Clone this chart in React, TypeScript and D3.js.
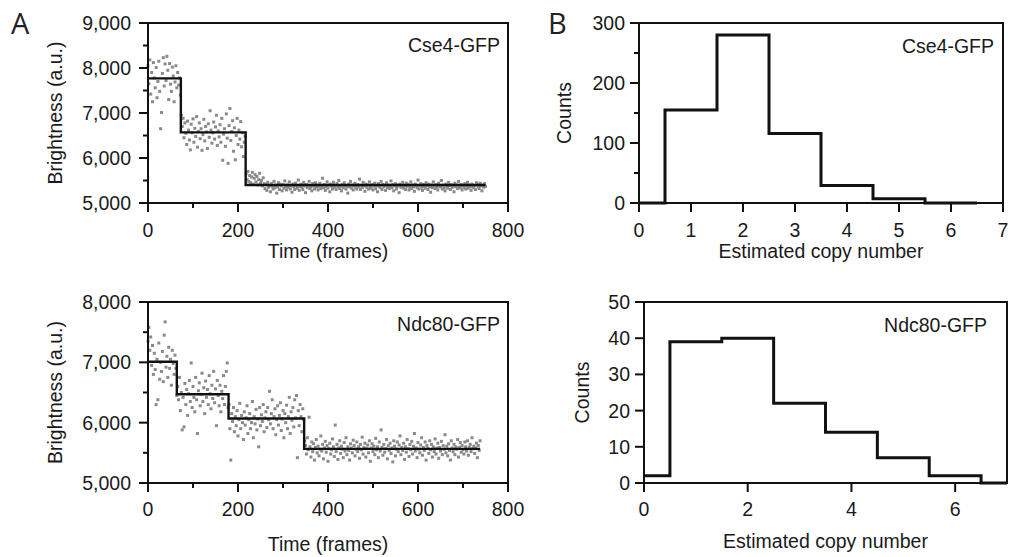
import React from 'react';
import * as d3 from 'd3';

// ---------------- data ----------------
const FRAME_STEP = 2;

// Cse4-GFP brightness trace (one value every FRAME_STEP frames, per segment)
const cse4Starts = [0, 74, 218];
const cse4Seg1 = [8050, 7650, 8180, 7420, 7900, 7250, 8120, 7780, 7560, 8010, 7340, 7700, 8150, 7480, 6650, 7010, 7880, 8230, 7600, 8090, 7720, 8260, 7950, 7300, 8100, 7640, 7480, 8020, 7820, 7250, 7690, 8050, 7560, 7900, 7620, 7780, 7400];
const cse4Seg2 = [6950, 6700, 6880, 6450, 6780, 6550, 6300, 6820, 6620, 6400, 6180, 6750, 6560, 6870, 6350, 6660, 6480, 6920, 6240, 6590, 6780, 6430, 6650, 6170, 6520, 6860, 6380, 6700, 6580, 6210, 6760, 6460, 7050, 6620, 6330, 6560, 6800, 6420, 6690, 6950, 6280, 6600, 6470, 6740, 6350, 6880, 5950, 6530, 6650, 6260, 6980, 6440, 5880, 6720, 7100, 6390, 6590, 6830, 6150, 6670, 5960, 6500, 6880, 6300, 6620, 6420, 6810, 6250, 6560, 6030, 6350, 6480];
const cse4Seg3 = [
  5650, 5520, 5700, 5480, 5610, 5450, 5580, 5680, 5420, 5550, 5630, 5470, 5590, 5400, 5520, 5660, 5440, 5500, 5380, 5560, 5430,
  5320, 5410, 5280, 5460, 5350, 5390, 5250, 5430, 5370, 5310, 5480, 5340, 5400, 5220, 5360, 5450, 5300, 5420, 5380, 5270,
  5410, 5330, 5490, 5360, 5290, 5400, 5350, 5470, 5310, 5380, 5240, 5420, 5360, 5300, 5440, 5390, 5330, 5510, 5280, 5370,
  5420, 5350, 5300, 5460, 5380, 5230, 5410, 5340, 5390, 5480, 5320, 5360, 5270, 5430, 5380, 5310, 5450, 5350, 5400, 5290,
  5370, 5440, 5320, 5390, 5550, 5340, 5410, 5280, 5360, 5470, 5330, 5400, 5250, 5420, 5370, 5310, 5460, 5350, 5390, 5300,
  5430, 5360, 5500, 5320, 5380, 5270, 5410, 5340, 5450, 5390, 5310, 5370, 5220, 5420, 5360, 5480, 5330, 5400, 5290, 5380,
  5440, 5350, 5310, 5410, 5370, 5530, 5300, 5390, 5340, 5460, 5380, 5260, 5420, 5350, 5400, 5310, 5470, 5360, 5330, 5410,
  5290, 5380, 5440, 5320, 5390, 5250, 5430, 5370, 5340, 5480, 5300, 5410, 5360, 5390, 5280, 5450, 5350, 5400, 5320, 5370,
  5490, 5340, 5410, 5270, 5380, 5430, 5310, 5360, 5400, 5230, 5420, 5350, 5390, 5460, 5330, 5380, 5300, 5440, 5370, 5410,
  5290, 5350, 5470, 5320, 5400, 5360, 5260, 5420, 5380, 5340, 5510, 5310, 5390, 5430, 5350, 5280, 5410, 5370, 5330, 5450,
  5380, 5300, 5420, 5360, 5240, 5400, 5340, 5470, 5390, 5320, 5410, 5350, 5290, 5440, 5380, 5360, 5500, 5310, 5400, 5340,
  5270, 5420, 5370, 5330, 5460, 5390, 5300, 5410, 5350, 5380, 5250, 5440, 5360, 5400, 5320, 5480, 5370, 5340, 5410, 5290,
  5390, 5350, 5430, 5310, 5380, 5460, 5330, 5400, 5360, 5280, 5420, 5370, 5340, 5390, 5300, 5450,
  5410, 5360, 5320, 5440, 5380, 5270, 5400, 5350, 5430, 5370,
];
const cse4StepFrames = [0, 73, 217, 750];
const cse4StepLevels = [7770, 6570, 5400];

// Ndc80-GFP brightness trace
const ndcStarts = [0, 66, 180, 348];
const ndcSeg1 = [7350, 7580, 7200, 7420, 6950, 7280, 6800, 7150, 6880, 6300, 7050, 6380, 7320, 6720, 7000, 6850, 7180, 6680, 7450, 7670, 6920, 7100, 6750, 7250, 6900, 7050, 6620, 7200, 6980, 6800, 7120, 6900, 6450];
const ndcSeg2 = [6600, 6380, 6750, 6200, 6500, 5880, 6420, 5930, 6650, 6300, 6550, 6120, 6480, 6700, 6350, 6990, 6250, 6600, 6420, 6180, 6750, 6380, 5820, 6530, 6660, 6280, 6470, 6820, 6350, 6580, 6150, 6690, 6420, 6550, 6300, 6780, 6480, 6230, 6620, 6400, 6850, 6330, 6560, 5950, 6700, 6450, 6280, 6620, 6180, 6520, 6400, 6780, 6300, 6600, 6850, 6990, 6250];
const ndcSeg3 = [6300, 5900, 5380, 6150, 6020, 6250, 5850, 6100, 5950, 6200, 5780, 6050, 6320, 5900, 6120, 6000, 5720, 6180, 5960, 6080, 6280, 5820, 6050, 6150, 5900, 6000, 6350, 5750, 6100, 5980, 6220, 5880, 6060, 5600, 6250, 5950, 6130, 6020, 6300, 5850, 6080, 6180, 5920, 6250, 6050, 6520, 5980, 6150, 6380, 5900, 6100, 6230, 5800, 6050, 6280, 5960, 6120, 6330, 5870, 6060, 6200, 5750, 6150, 6000, 6290, 5900, 6100, 6420, 5820, 6180, 6040, 6250, 5930, 6380, 6080, 6450, 5420, 6200, 5950, 6300, 6100, 5850, 6230, 6050];
const ndcSeg4 = [
  5700, 5620, 5480, 5750, 5550, 6090, 5600, 5430, 5680, 5520,
  5650, 5380, 5590, 5720, 5500, 5610, 5450, 5560, 5780, 5530,
  5640, 5400, 5580, 5690, 5510, 5620, 5360, 5570, 5660, 5480,
  5550, 5730, 5600, 5440, 5960, 5520, 5640, 5390, 5580, 5700,
  5490, 5610, 5560, 5420, 5670, 5530, 5750, 5470, 5600, 5540,
  5380, 5650, 5580, 5500, 5710, 5620, 5450, 5560, 5680, 5520,
  5600, 5410, 5640, 5550, 5760, 5480, 5590, 5660, 5430, 5570,
  5630, 5500, 5700, 5360, 5580, 5650, 5520, 5610, 5470, 5740,
  5550, 5600, 5420, 5680, 5530, 5880, 5590, 5460, 5640, 5510,
  5570, 5720, 5400, 5620, 5540, 5660, 5490, 5580, 5350, 5700,
  5610, 5450, 5560, 5680, 5520, 5630, 5780, 5470, 5590, 5540,
  5660, 5390, 5600, 5510, 5720, 5570, 5440, 5640, 5550, 5690,
  5480, 5610, 5820, 5530, 5580, 5420, 5670, 5560, 5500, 5630,
  5750, 5460, 5590, 5540, 5680, 5380, 5620, 5570, 5490, 5700,
  5550, 5640, 5430, 5600, 5520, 5730, 5480, 5580, 5660, 5410,
  5590, 5530, 5690, 5470, 5620, 5560, 5800, 5500, 5610, 5450,
  5650, 5540, 5380, 5700, 5580, 5520, 5640, 5470, 5600, 5560,
  5720, 5430, 5590, 5670, 5510, 5620, 5550, 5480, 5680, 5600,
  5530, 5700, 5460, 5590, 5640, 5520, 5750, 5570, 5610, 5490,
  5580, 5660, 5420, 5620, 5540, 5700,
];
const ndcStepFrames = [0, 64, 179, 347, 738];
const ndcStepLevels = [7010, 6470, 6070, 5565];

// Histograms of estimated copy number
const cse4BinEdges = [0, 0.5, 1.5, 2.5, 3.5, 4.5, 5.5, 6.5];
const cse4Counts = [0, 155, 280, 116, 29, 7, 0];
const ndcBinEdges = [0, 0.5, 1.5, 2.5, 3.5, 4.5, 5.5, 6.5, 7];
const ndcCounts = [2, 39, 40, 22, 14, 7, 2, 0];

// tick values
const timeTicks = [0, 200, 400, 600, 800];
const timeMinor = [100, 300, 500, 700];
const cse4BrightTicks = [5000, 6000, 7000, 8000, 9000];
const cse4BrightMinor = [5500, 6500, 7500, 8500];
const ndcBrightTicks = [5000, 6000, 7000, 8000];
const ndcBrightMinor = [5500, 6500, 7500];
const cse4CopyTicks = [0, 1, 2, 3, 4, 5, 6, 7];
const cse4CountTicks = [0, 100, 200, 300];
const cse4CountMinor = [50, 150, 250];
const ndcCopyTicks = [0, 2, 4, 6];
const ndcCountTicks = [0, 10, 20, 30, 40, 50];

// ---------------- drawing ----------------
const FONT = "'Liberation Sans', Arial, Helvetica, sans-serif";
const FS = 19.5;
const MAJ = 9;
const MIN = 5;
const fmtComma = d3.format(',');
const fmtPlain = d3.format('d');

type Box = { x0: number; x1: number; y0: number; y1: number };

function toPoints(starts: number[], segs: number[][]) {
  const pts: [number, number][] = [];
  segs.forEach((seg, s) => seg.forEach((v, i) => pts.push([starts[s] + i * FRAME_STEP, v])));
  return pts;
}

function stepPoints(xs: number[], ys: number[]) {
  const pts: [number, number][] = ys.map((y, i) => [xs[i], y]);
  pts.push([xs[xs.length - 1], ys[ys.length - 1]]);
  return pts;
}

function Axes(props: {
  box: Box;
  x: d3.ScaleLinear<number, number>;
  y: d3.ScaleLinear<number, number>;
  xTicks: number[];
  xMinor?: number[];
  yTicks: number[];
  yMinor?: number[];
  yFmt: (n: number) => string;
  yPad: number;
  xLabel: string;
  xLabelY: number;
  xTickY: number;
  yLabel: string;
  yLabelX: number;
  title: string;
  titleX: number;
  titleY: number;
}) {
  const { box, x, y } = props;
  return (
    <g fontFamily={FONT} fontSize={FS} fill="#1a1a1a">
      {props.xTicks.map((t) => (
        <g key={'xt' + t}>
          <line x1={x(t)} x2={x(t)} y1={box.y1} y2={box.y1 + MAJ} stroke="#111" strokeWidth={2} />
          <text x={x(t)} y={props.xTickY} textAnchor="middle">{fmtPlain(t)}</text>
        </g>
      ))}
      {(props.xMinor || []).map((t) => (
        <line key={'xm' + t} x1={x(t)} x2={x(t)} y1={box.y1} y2={box.y1 + MIN} stroke="#111" strokeWidth={2} />
      ))}
      {props.yTicks.map((t) => (
        <g key={'yt' + t}>
          <line x1={box.x0 - MAJ} x2={box.x0} y1={y(t)} y2={y(t)} stroke="#111" strokeWidth={2} />
          <text x={box.x0 - MAJ - props.yPad} y={y(t)} dy="0.36em" textAnchor="end">{props.yFmt(t)}</text>
        </g>
      ))}
      {(props.yMinor || []).map((t) => (
        <line key={'ym' + t} x1={box.x0 - MIN} x2={box.x0} y1={y(t)} y2={y(t)} stroke="#111" strokeWidth={2} />
      ))}
      <rect x={box.x0} y={box.y0} width={box.x1 - box.x0} height={box.y1 - box.y0} fill="none" stroke="#111" strokeWidth={2} />
      <text x={(box.x0 + box.x1) / 2} y={props.xLabelY} textAnchor="middle">{props.xLabel}</text>
      <text transform={`translate(${props.yLabelX},${(box.y0 + box.y1) / 2}) rotate(-90)`} textAnchor="middle">{props.yLabel}</text>
      <text x={props.titleX} y={props.titleY} textAnchor="end">{props.title}</text>
    </g>
  );
}

function TracePanel(props: {
  box: Box; yDomain: [number, number]; yTicks: number[]; yMinor: number[];
  pts: [number, number][]; stepX: number[]; stepY: number[]; title: string;
  xTickY: number; xLabelY: number;
}) {
  const { box } = props;
  const x = d3.scaleLinear().domain([0, 800]).range([box.x0, box.x1]);
  const y = d3.scaleLinear().domain(props.yDomain).range([box.y1, box.y0]);
  const line = d3.line<[number, number]>().x((d) => x(d[0])).y((d) => y(d[1])).curve(d3.curveStepAfter);
  return (
    <g>
      <g fill="#8a8a8a">
        {props.pts.map((d, i) => (
          <rect key={i} x={x(d[0]) - 1.5} y={y(d[1]) - 1.5} width={3} height={3} />
        ))}
      </g>
      <path d={line(stepPoints(props.stepX, props.stepY)) || ''} fill="none" stroke="#111" strokeWidth={2.4} />
      <Axes box={box} x={x} y={y} xTicks={timeTicks} xMinor={timeMinor} yTicks={props.yTicks} yMinor={props.yMinor}
        yFmt={fmtComma} yPad={8} xLabel="Time (frames)" xLabelY={props.xLabelY} xTickY={props.xTickY}
        yLabel="Brightness (a.u.)" yLabelX={62} title={props.title} titleX={box.x1 - 8} titleY={box.y0 + 29} />
    </g>
  );
}

function HistPanel(props: {
  box: Box; yMax: number; xTicks: number[]; yTicks: number[]; yMinor?: number[];
  edges: number[]; counts: number[]; title: string; titleX: number; xTickY: number; xLabelY: number; yLabelX: number;
}) {
  const { box } = props;
  const x = d3.scaleLinear().domain([0, 7]).range([box.x0, box.x1]);
  const y = d3.scaleLinear().domain([0, props.yMax]).range([box.y1, box.y0]);
  const line = d3.line<[number, number]>().x((d) => x(d[0])).y((d) => y(d[1])).curve(d3.curveStepAfter);
  return (
    <g>
      <path d={line(stepPoints(props.edges, props.counts)) || ''} fill="none" stroke="#111" strokeWidth={3} />
      <Axes box={box} x={x} y={y} xTicks={props.xTicks} yTicks={props.yTicks} yMinor={props.yMinor}
        yFmt={fmtPlain} yPad={5} xLabel="Estimated copy number" xLabelY={props.xLabelY} xTickY={props.xTickY}
        yLabel="Counts" yLabelX={props.yLabelX} title={props.title} titleX={props.titleX} titleY={box.y0 + 30} />
    </g>
  );
}

export default function App() {
  const cse4Pts = toPoints(cse4Starts, [cse4Seg1, cse4Seg2, cse4Seg3]);
  const ndcPts = toPoints(ndcStarts, [ndcSeg1, ndcSeg2, ndcSeg3, ndcSeg4]);
  return (
    <svg width={1010} height={557} style={{ position: 'absolute', left: 0, top: 0, background: '#fff' }}>
      <rect width={1010} height={557} fill="#fff" />
      <text x={11} y={34} fontFamily="'Open Sans', sans-serif" fontSize={29} fill="#222">A</text>
      <text x={548} y={34} fontFamily="'Open Sans', sans-serif" fontSize={29} fill="#222">B</text>
      <TracePanel box={{ x0: 148, x1: 508, y0: 23, y1: 203 }} yDomain={[5000, 9000]} yTicks={cse4BrightTicks}
        yMinor={cse4BrightMinor} pts={cse4Pts} stepX={cse4StepFrames} stepY={cse4StepLevels} title="Cse4-GFP"
        xTickY={237} xLabelY={258} />
      <TracePanel box={{ x0: 148, x1: 508, y0: 302, y1: 483 }} yDomain={[5000, 8000]} yTicks={ndcBrightTicks}
        yMinor={ndcBrightMinor} pts={ndcPts} stepX={ndcStepFrames} stepY={ndcStepLevels} title="Ndc80-GFP"
        xTickY={516} xLabelY={551} />
      <HistPanel box={{ x0: 639, x1: 1003, y0: 23, y1: 203 }} yMax={300} xTicks={cse4CopyTicks} yTicks={cse4CountTicks}
        yMinor={cse4CountMinor} edges={cse4BinEdges} counts={cse4Counts} title="Cse4-GFP" titleX={994}
        xTickY={237} xLabelY={258} yLabelX={571} />
      <HistPanel box={{ x0: 644, x1: 1007, y0: 302, y1: 483 }} yMax={50} xTicks={ndcCopyTicks} yTicks={ndcCountTicks}
        edges={ndcBinEdges} counts={ndcCounts} title="Ndc80-GFP" titleX={987}
        xTickY={516} xLabelY={548} yLabelX={589} />
    </svg>
  );
}
